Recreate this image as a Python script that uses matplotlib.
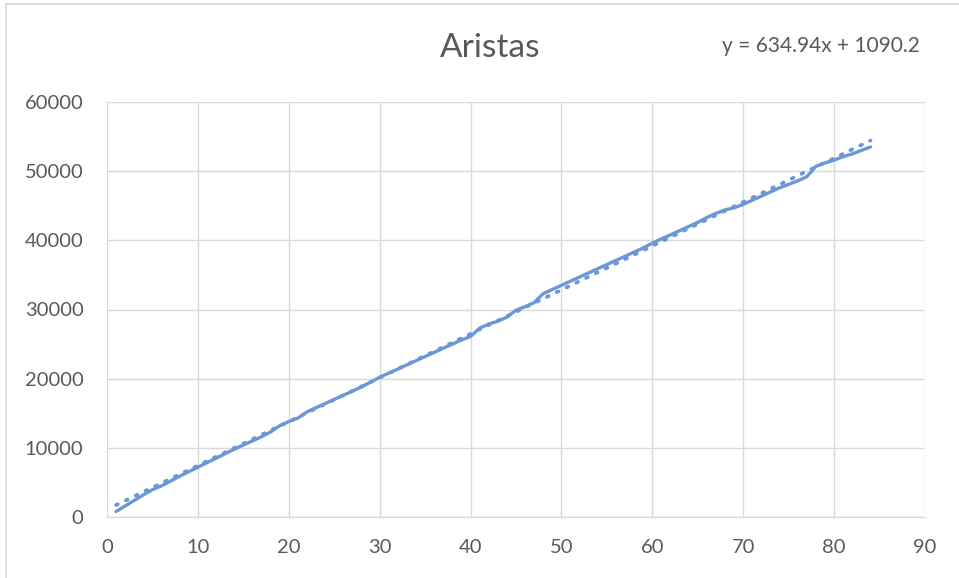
import numpy as np
import matplotlib
matplotlib.use("Agg")
import matplotlib.pyplot as plt

# Cumulative number of edges per step
x_vals = list(range(1, 85))
aristas = [
    800, 1600, 2400, 3200, 3950, 4500, 5200, 5900, 6550, 7200,
    7850, 8500, 9150, 9800, 10400, 11000, 11600, 12300, 13200, 13800,
    14300, 15200, 15800, 16400, 17000, 17600, 18200, 18800, 19500, 20200,
    20800, 21400, 22000, 22600, 23200, 23800, 24400, 25000, 25600, 26100,
    27300, 27900, 28300, 28900, 29900, 30400, 31000, 32300, 32900, 33500,
    34100, 34700, 35300, 35900, 36500, 37100, 37700, 38300, 38900, 39600,
    40200, 40800, 41400, 42000, 42600, 43300, 43900, 44400, 44700, 45200,
    45800, 46400, 47000, 47600, 48100, 48600, 49200, 50700, 51200, 51600,
    52100, 52500, 53000, 53500,
]

# Linear trendline coefficients
slope = 634.94
intercept = 1090.2

x_ticks = [0, 10, 20, 30, 40, 50, 60, 70, 80, 90]
y_ticks = [0, 10000, 20000, 30000, 40000, 50000, 60000]

plt.rcParams['font.family'] = ['Lato', 'DejaVu Sans']
text_color = '#595959'
grid_color = '#d9d9d9'
line_color = '#6a98d6'

fig = plt.figure(figsize=(9.59, 5.78), dpi=100)
# chart outer border (left and top)
fig.add_artist(plt.Line2D([6 / 959, 6 / 959], [0, 1 - 4 / 578], color='#d9d9d9', lw=1.2))
fig.add_artist(plt.Line2D([6 / 959, 1], [1 - 4 / 578, 1 - 4 / 578], color='#d9d9d9', lw=1.2))

ax = fig.add_axes([107 / 959, 1 - 517 / 578, (925 - 107) / 959, (517 - 102) / 578])

x_arr = np.array(x_vals, dtype=float)
y_arr = np.array(aristas, dtype=float)

trend_x = np.array([x_arr[0], x_arr[-1]])
trend_y = slope * trend_x + intercept
ax.plot(trend_x, trend_y, color=line_color, lw=2.7, linestyle=(0, (0.5, 2.4)),
        dash_capstyle='round', zorder=3)
ax.plot(x_arr, y_arr, color=line_color, lw=2.4, solid_capstyle='round',
        solid_joinstyle='round', zorder=4)

ax.set_xlim(0, 90)
ax.set_ylim(0, 60000)
ax.set_xticks(x_ticks)
ax.set_yticks(y_ticks)
ax.set_xticklabels([str(v) for v in x_ticks])
ax.set_yticklabels([str(v) for v in y_ticks])
ax.grid(True, color=grid_color, lw=1.0)
ax.set_axisbelow(True)
for side in ['top', 'right', 'left']:
    ax.spines[side].set_visible(False)
ax.spines['bottom'].set_color(grid_color)
ax.spines['bottom'].set_linewidth(1.0)
ax.tick_params(axis='both', length=0, labelsize=14.5, colors=text_color)
ax.tick_params(axis='x', pad=16)
ax.tick_params(axis='y', pad=17)

fig.text(490 / 959, 1 - 48 / 578, 'Aristas', ha='center', va='center',
         fontsize=24, color=text_color)
fig.text(821 / 959, 1 - 46 / 578, 'y = 634.94x + 1090.2', ha='center', va='center',
         fontsize=15, color=text_color)

fig.savefig('out.png', dpi=100, facecolor='white')
